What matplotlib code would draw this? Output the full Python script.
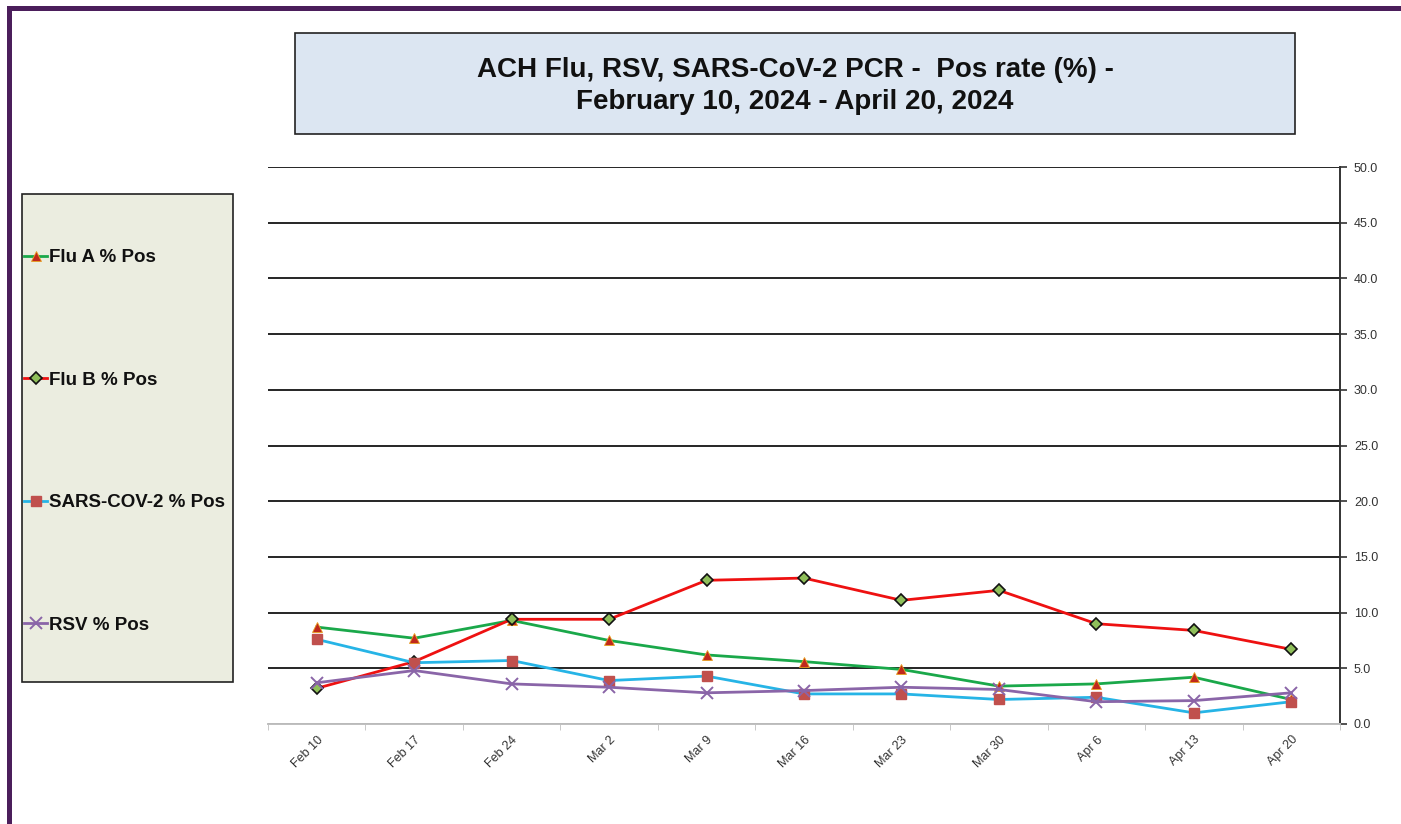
import matplotlib
matplotlib.use('Agg')
from matplotlib import pyplot as plt
from matplotlib import patches
from matplotlib.ticker import FixedLocator, FormatStrFormatter

#############################################
#	Data									#
#############################################
weeks = ['Feb 10', 'Feb 17', 'Feb 24', 'Mar 2', 'Mar 9', 'Mar 16',
		 'Mar 23', 'Mar 30', 'Apr 6', 'Apr 13', 'Apr 20']
flu_a = [8.7, 7.7, 9.3, 7.5, 6.2, 5.6, 4.9, 3.4, 3.6, 4.2, 2.2]
flu_b = [3.2, 5.6, 9.4, 9.4, 12.9, 13.1, 11.1, 12.0, 9.0, 8.4, 6.7]
sars = [7.6, 5.5, 5.7, 3.9, 4.3, 2.7, 2.7, 2.2, 2.4, 1.0, 2.0]
rsv = [3.7, 4.8, 3.6, 3.3, 2.8, 3.0, 3.3, 3.1, 2.0, 2.1, 2.8]

title = 'ACH Flu, RSV, SARS-CoV-2 PCR -  Pos rate (%) -\nFebruary 10, 2024 - April 20, 2024'

W, H = 1401, 824
plt.rcParams['font.family'] = ['Liberation Sans', 'DejaVu Sans']

fig = plt.figure(figsize=(W / 100, H / 100), dpi=100)
fig.patch.set_facecolor('white')

def fx(px):
	return px / W

def fy(py):
	return 1 - py / H

# purple frame (top and left)
fig.patches.append(patches.Rectangle((fx(7), fy(11)), 1, 5 / H, transform=fig.transFigure,
									 facecolor='#4b1e5b', edgecolor='none'))
fig.patches.append(patches.Rectangle((fx(7), 0), 5 / W, fy(6), transform=fig.transFigure,
									 facecolor='#4b1e5b', edgecolor='none'))

# title box
fig.patches.append(patches.Rectangle((fx(295), fy(134)), 1000 / W, 101 / H, transform=fig.transFigure,
									 facecolor='#dce6f2', edgecolor='#222222', lw=1.2))
fig.text(fx(795), fy(86), title, ha='center', va='center', fontsize=20, fontweight='bold',
		 linespacing=1.28, color='#111111')

# legend box
fig.patches.append(patches.Rectangle((fx(22), fy(682)), 211 / W, 488 / H, transform=fig.transFigure,
									 facecolor='#ebede0', edgecolor='#222222', lw=1.2))

ax = fig.add_axes([fx(268), fy(724), (1340 - 268) / W, (724 - 167) / H])
ax.set_facecolor('none')
x = list(range(len(weeks)))

l1, = ax.plot(x, flu_a, color='#1aa84a', lw=2.0, marker='^', markersize=7.5,
			  markerfacecolor='#c0281c', markeredgecolor='#e8a020', markeredgewidth=0.6, label='Flu A % Pos')
l2, = ax.plot(x, flu_b, color='#ee1111', lw=2.0, marker='D', markersize=6,
			  markerfacecolor='#8fbf5a', markeredgecolor='#111111', markeredgewidth=1.2, label='Flu B % Pos')
l3, = ax.plot(x, sars, color='#26b4e6', lw=2.0, marker='s', markersize=7,
			  markerfacecolor='#c0504d', markeredgecolor='#c0504d', label='SARS-COV-2 % Pos')
l4, = ax.plot(x, rsv, color='#8a65a8', lw=2.0, marker='x', markersize=8,
			  markeredgecolor='#8a65a8', markeredgewidth=1.4, label='RSV % Pos')

ax.set_xlim(-0.5, len(weeks) - 0.5)
ax.set_ylim(0, 50)
ax.set_xticks(x)
ax.set_xticklabels(weeks, rotation=45, ha='right', rotation_mode='anchor', fontsize=9, color='#333333')
ax.xaxis.set_minor_locator(FixedLocator([i - 0.5 for i in range(len(weeks) + 1)]))
ax.tick_params(axis='x', which='major', length=0, pad=7)
ax.tick_params(axis='x', which='minor', length=4, color='#bfbfbf', direction='out')

ax.yaxis.tick_right()
ax.set_yticks([i * 5 for i in range(11)])
ax.yaxis.set_major_formatter(FormatStrFormatter('%.1f'))
ax.tick_params(axis='y', length=5, width=1.2, color='#333333', labelsize=9, labelcolor='#333333', pad=5)

ax.grid(axis='y', color='black', lw=1.2)
ax.set_axisbelow(True)
for s in ['top', 'left']:
	ax.spines[s].set_visible(False)
ax.spines['right'].set_color('#333333')
ax.spines['right'].set_linewidth(1.4)
ax.spines['bottom'].set_color('#bfbfbf')
ax.spines['bottom'].set_linewidth(1.4)

leg = fig.legend(handles=[l1, l2, l3, l4], loc='upper left', bbox_to_anchor=(fx(24), fy(249)),
				 frameon=False, borderpad=0, borderaxespad=0, handlelength=1.25, handletextpad=0.1,
				 labelspacing=5.62, prop={'size': 13.5, 'weight': 'bold'})
for t in leg.get_texts():
	t.set_color('#111111')

fig.savefig('out.png', dpi=100)
